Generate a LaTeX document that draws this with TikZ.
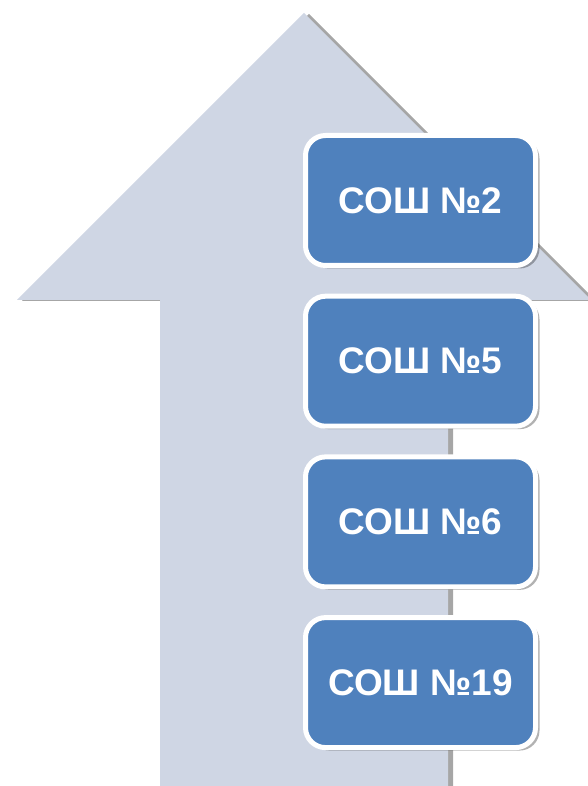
\documentclass[tikz,border=0pt]{standalone}
\usepackage{fontspec}
\setmainfont{Liberation Sans}
\usetikzlibrary{positioning,shadows}
\definecolor{schoolblue}{RGB}{79,129,189}
\definecolor{arrowgrey}{RGB}{207,214,228}

\begin{document}
\begin{tikzpicture}[
    x=1pt,y=1pt,
    node distance=25.7pt,
    school/.style={draw=white,line width=5pt,rounded corners=20pt,fill=schoolblue,text=white,
      font=\bfseries\fontsize{37}{40}\selectfont,minimum width=230pt,minimum height=130pt,
      drop shadow={shadow xshift=4pt,shadow yshift=-3pt,opacity=0.3,fill=black}},
    bigarrow/.style={fill=arrowgrey,drop shadow={shadow xshift=5pt,shadow yshift=-1pt,opacity=0.35,fill=black}}
  ]
  \useasboundingbox (0,0) rectangle (588,786);
  % upward arrow behind the schools
  \begin{scope}
    \clip (0,0) rectangle (588,786);
    \fill[bigarrow] (304,773) -- (591,486) -- (448,486) -- (448,-10) -- (160,-10) -- (160,486) -- (17,486) -- cycle;
  \end{scope}
  \node[school] (sosh2) at (420.5,585.5) {СОШ №2};
  \node[school,below=of sosh2] (sosh5) {СОШ №5};
  \node[school,below=of sosh5] (sosh6) {СОШ №6};
  \node[school,below=of sosh6] (sosh19) {СОШ №19};
\end{tikzpicture}
\end{document}
